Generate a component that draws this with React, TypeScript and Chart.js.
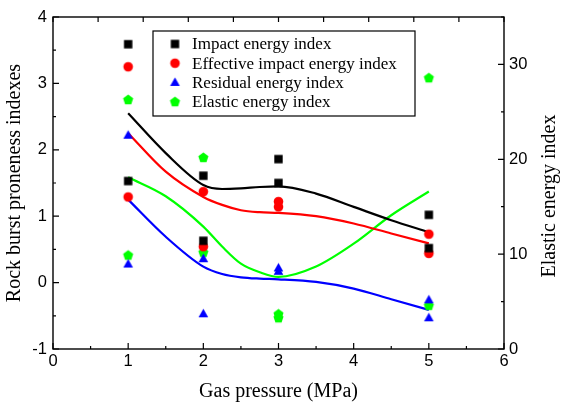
import React, { useEffect, useRef } from 'react';
import { Chart, registerables } from 'chart.js';

Chart.register(...registerables);

// ---- data ----
const gasPressure = [1, 1, 2, 2, 3, 3, 5, 5];
const impactEnergy = [3.59, 1.53, 1.61, 0.63, 1.86, 1.5, 1.02, 0.52];
const effectiveImpact = [3.25, 1.29, 1.37, 0.54, 1.22, 1.14, 0.73, 0.44];
const residualEnergy = [2.22, 0.28, 0.36, -0.47, 0.22, 0.17, -0.26, -0.53];
const elasticEnergy = [26.3, 9.9, 20.2, 10.2, 3.7, 3.3, 28.6, 4.6];

const fitX = [1, 1.5, 2, 2.25, 2.5, 2.75, 3, 3.5, 4, 4.5, 5];
const impactFit = [2.55, 1.95, 1.47, 1.41, 1.42, 1.44, 1.45, 1.34, 1.14, 0.94, 0.76];
const effectiveFit = [2.25, 1.67, 1.29, 1.17, 1.09, 1.06, 1.05, 1.0, 0.89, 0.74, 0.59];
const residualFit = [1.25, 0.69, 0.24, 0.13, 0.08, 0.06, 0.05, 0.01, -0.09, -0.25, -0.41];
const elasticFit = [18.1, 16.1, 12.9, 10.8, 9.0, 8.1, 7.6, 8.7, 11.1, 14.1, 16.6];

const seriesNames = [
  'Impact energy index',
  'Effective impact energy index',
  'Residual energy index',
  'Elastic energy index',
];
const seriesColors = ['#000000', '#ff0000', '#0000ff', '#00ff00'];
const seriesShapes = ['square', 'circle', 'triangle', 'pentagon'];

const xMajor = [0, 1, 2, 3, 4, 5, 6];
const xMinor = [0.5, 1.5, 2.5, 3.5, 4.5, 5.5];
const topTicks = [0, 1, 2, 3, 4, 5, 6, 7, 8, 9, 10];
const yMajor = [-1, 0, 1, 2, 3, 4];
const yMinor = [-0.5, 0.5, 1.5, 2.5, 3.5];
const y2Major = [0, 10, 20, 30];
const y2Minor = [5, 15, 25, 35];

const toPts = (xs: number[], ys: number[]) => xs.map((x, i) => ({ x, y: ys[i] }));

function makeMarker(shape: string, color: string): HTMLCanvasElement {
  const c = document.createElement('canvas');
  c.width = 13;
  c.height = 13;
  const ctx = c.getContext('2d')!;
  const cx = 6.5, cy = 6.5;
  ctx.fillStyle = color;
  ctx.beginPath();
  if (shape === 'square') {
    const s = 4.2;
    ctx.rect(cx - s, cy - s, 2 * s, 2 * s);
  } else if (shape === 'circle') {
    ctx.arc(cx, cy, 4.8, 0, Math.PI * 2);
  } else if (shape === 'triangle') {
    const r = 5.6;
    for (let i = 0; i < 3; i++) {
      const a = -Math.PI / 2 + (i * 2 * Math.PI) / 3;
      const px = cx + r * Math.cos(a), py = cy + 0.6 + r * Math.sin(a);
      if (i === 0) ctx.moveTo(px, py); else ctx.lineTo(px, py);
    }
  } else {
    const r = 5.3;
    for (let i = 0; i < 5; i++) {
      const a = -Math.PI / 2 + (i * 2 * Math.PI) / 5;
      const px = cx + r * Math.cos(a), py = cy + 0.4 + r * Math.sin(a);
      if (i === 0) ctx.moveTo(px, py); else ctx.lineTo(px, py);
    }
  }
  ctx.closePath();
  ctx.fill();
  return c;
}

export default function App() {
  const ref = useRef<HTMLCanvasElement | null>(null);

  useEffect(() => {
    document.body.style.margin = '0';
    const canvas = ref.current!;
    const markers = seriesShapes.map((s, i) => makeMarker(s, seriesColors[i]));

    const framePlugin = {
      id: 'frameTicks',
      afterDatasetsDraw(chart: any) {
        const { ctx, chartArea: a, scales } = chart;
        ctx.save();
        ctx.strokeStyle = '#000';
        ctx.lineWidth = 1.4;
        ctx.strokeRect(a.left, a.top, a.right - a.left, a.bottom - a.top);
        ctx.lineWidth = 1.2;
        ctx.beginPath();
        xMajor.forEach((v) => {
          const p = scales.x.getPixelForValue(v);
          ctx.moveTo(p, a.bottom); ctx.lineTo(p, a.bottom - 6);
        });
        xMinor.forEach((v) => {
          const p = scales.x.getPixelForValue(v);
          ctx.moveTo(p, a.bottom); ctx.lineTo(p, a.bottom - 3);
        });
        topTicks.forEach((v) => {
          const p = scales.x2.getPixelForValue(v);
          ctx.moveTo(p, a.top); ctx.lineTo(p, a.top + 5);
        });
        yMajor.forEach((v) => {
          const p = scales.y.getPixelForValue(v);
          ctx.moveTo(a.left, p); ctx.lineTo(a.left + 6, p);
        });
        yMinor.forEach((v) => {
          const p = scales.y.getPixelForValue(v);
          ctx.moveTo(a.left, p); ctx.lineTo(a.left + 3, p);
        });
        y2Major.forEach((v) => {
          const p = scales.y2.getPixelForValue(v);
          ctx.moveTo(a.right, p); ctx.lineTo(a.right - 6, p);
        });
        y2Minor.forEach((v) => {
          const p = scales.y2.getPixelForValue(v);
          ctx.moveTo(a.right, p); ctx.lineTo(a.right - 3, p);
        });
        ctx.stroke();
        ctx.restore();
      },
      afterDraw(chart: any) {
        const { ctx, chartArea: a } = chart;
        ctx.save();
        // right axis title, reading bottom to top
        ctx.fillStyle = '#000';
        ctx.font = '20px "Liberation Serif"';
        ctx.textAlign = 'center';
        ctx.textBaseline = 'middle';
        ctx.translate(chart.width - 12, (a.top + a.bottom) / 2 + 13);
        ctx.rotate(-Math.PI / 2);
        ctx.fillText('Elastic energy index', 0, 0);
        ctx.restore();

        // legend
        ctx.save();
        const bx = a.left + 100, by = a.top + 14, bw = 262, bh = 85;
        ctx.fillStyle = '#fff';
        ctx.fillRect(bx, by, bw, bh);
        ctx.strokeStyle = '#000';
        ctx.lineWidth = 1.2;
        ctx.strokeRect(bx, by, bw, bh);
        ctx.font = '17px "Liberation Serif"';
        ctx.fillStyle = '#000';
        ctx.textAlign = 'left';
        ctx.textBaseline = 'middle';
        seriesNames.forEach((name, i) => {
          const cy = by + 13 + i * 19.2;
          const m = markers[i];
          ctx.drawImage(m, bx + 22 - m.width / 2, cy - m.height / 2);
          ctx.fillText(name, bx + 39, cy + 1);
        });
        ctx.restore();
      },
    };

    const tickFont = { family: '"Liberation Sans", Arial, sans-serif', size: 16.5 };
    const titleFont = { family: '"Liberation Serif", "Times New Roman", serif', size: 20 };

    const pointSet = (i: number, ys: number[], axis: string) => ({
      label: seriesNames[i],
      data: toPts(gasPressure, ys),
      showLine: false,
      pointStyle: markers[i],
      pointRadius: 5,
      pointHoverRadius: 5,
      borderColor: seriesColors[i],
      backgroundColor: seriesColors[i],
      yAxisID: axis,
      order: 0,
    });
    const lineSet = (i: number, ys: number[], axis: string) => ({
      label: seriesNames[i] + ' fit',
      data: toPts(fitX, ys),
      showLine: true,
      pointRadius: 0,
      borderColor: seriesColors[i],
      borderWidth: 2.2,
      cubicInterpolationMode: 'monotone',
      fill: false,
      yAxisID: axis,
      order: 1,
    });

    const chart = new Chart(canvas, {
      type: 'line',
      data: {
        datasets: [
          lineSet(0, impactFit, 'y'),
          lineSet(1, effectiveFit, 'y'),
          lineSet(2, residualFit, 'y'),
          lineSet(3, elasticFit, 'y2'),
          pointSet(0, impactEnergy, 'y'),
          pointSet(1, effectiveImpact, 'y'),
          pointSet(2, residualEnergy, 'y'),
          pointSet(3, elasticEnergy, 'y2'),
        ] as any,
      },
      options: {
        animation: false,
        responsive: false,
        events: [],
        layout: { padding: 0 },
        plugins: { legend: { display: false }, tooltip: { enabled: false } },
        scales: {
          x: {
            type: 'linear',
            position: 'bottom',
            min: 0,
            max: 6,
            ticks: { stepSize: 1, font: tickFont, color: '#000', padding: 3, maxRotation: 0 },
            grid: { display: false, drawTicks: false },
            border: { display: false },
            title: {
              display: true,
              text: 'Gas pressure (MPa)',
              font: titleFont,
              color: '#000',
              padding: { top: 0, bottom: 1 },
            },
            afterFit: (s: any) => { s.height = 56; },
          },
          x2: {
            type: 'linear',
            position: 'top',
            min: 0,
            max: 10,
            ticks: { display: false, stepSize: 1 },
            grid: { display: false, drawTicks: false },
            border: { display: false },
            afterFit: (s: any) => { s.height = 17; },
          },
          y: {
            type: 'linear',
            position: 'left',
            min: -1,
            max: 4,
            ticks: { stepSize: 1, font: tickFont, color: '#000', padding: 6 },
            grid: { display: false, drawTicks: false },
            border: { display: false },
            title: {
              display: true,
              text: 'Rock burst proneness indexes',
              font: titleFont,
              color: '#000',
              padding: { top: 3, bottom: 0 },
            },
            afterFit: (s: any) => { s.width = 53; },
          },
          y2: {
            type: 'linear',
            position: 'right',
            min: 0,
            max: 35,
            ticks: {
              stepSize: 5,
              font: tickFont,
              color: '#000',
              padding: 5,
              callback: (v: any) => (Number(v) % 10 === 0 ? String(v) : ''),
            },
            grid: { display: false, drawTicks: false },
            border: { display: false },
            afterFit: (s: any) => { s.width = 58; },
          },
        },
      } as any,
      plugins: [framePlugin],
    });
    return () => chart.destroy();
  }, []);

  return (
    <div style={{ width: 562, height: 405, background: '#fff' }}>
      <canvas ref={ref} width={562} height={405} style={{ display: 'block' }} />
    </div>
  );
}
